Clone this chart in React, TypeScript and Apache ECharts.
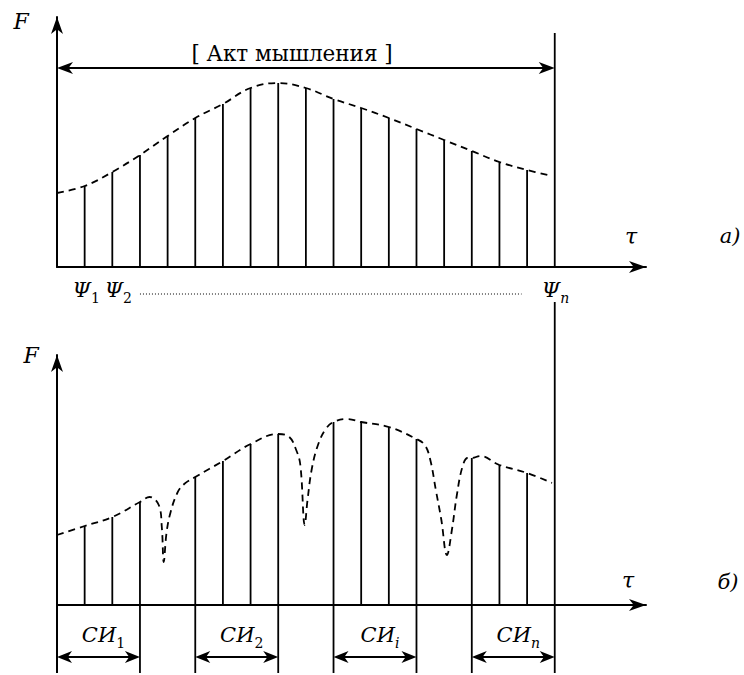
import React, { useEffect, useRef } from "react";
import * as echarts from "echarts";

const FONT = "DejaVu Serif";
const INK = "#000";

// ---------- panel a) ----------
const topStemTau = [1, 2, 3, 4, 5, 6, 7, 8, 9, 10, 11, 12, 13, 14, 15, 16, 17];
const topStemF = [81, 95, 112, 131, 149, 163, 179, 184, 179, 168, 159, 149, 138, 127, 116, 105, 97];
const topEnvTau = [0, 1, 2, 3, 4, 5, 6, 7, 8, 9, 10, 11, 12, 13, 14, 15, 16, 17, 17.9];
const topEnvF = [74, 81, 95, 112, 131, 149, 163, 179, 184, 179, 168, 159, 149, 138, 127, 116, 105, 97, 91];
const actEndTau = 18;
const actLineTopF = 234;
const actArrowF = 199;
const actLabel = "[ Акт мышления ]";
const psiAnchorTau = [1, 2, 18];
const psiSubs = ["1", "2", "n"];
const psiDotsTau = [3.0, 16.8];

// ---------- panel б) ----------
const botStemTau = [1, 2, 3, 5, 6, 7, 8, 10, 11, 12, 13, 15, 16, 17];
const botStemF = [79, 88, 103, 128, 144, 161, 171, 183, 183, 178, 166, 147, 140, 132];
const botEnvTau = [0, 1, 2, 3, 3.35, 3.68, 3.79, 3.86, 3.96, 4.1, 4.35, 4.6, 5, 6, 7, 8, 8.4, 8.65, 8.8, 8.96, 9.06, 9.22, 9.45, 9.72, 10, 10.5, 11, 12, 13, 13.3, 13.5, 13.7, 13.9, 14.1, 14.28, 14.46, 14.66, 14.85, 15, 15.3, 16, 17, 17.9];
const botEnvF = [70, 79, 88, 103, 108, 100, 78, 43, 72, 92, 112, 121, 128, 144, 161, 171, 168, 155, 140, 80, 105, 137, 161, 176, 183, 186, 183, 178, 166, 160, 145, 115, 85, 50, 75, 110, 138, 147, 147, 149, 140, 132, 122];
const siBounds = [[0, 3], [5, 8], [10, 13], [15, 18]];
const siSubs = ["1", "2", "i", "n"];
const botEndTau = 18;
const botLineTopF = 303;
const belowF = -68;
const siArrowF = -52;
const siLabelF = -32;

const TAU_MAX = 21.3;
const F_MAX = 250;

function arrowHead(tip: number[], dx: number, dy: number, len = 16, hw = 6) {
  const px = -dy, py = dx;
  const bx = tip[0] - dx * len, by = tip[1] - dy * len;
  const nx = tip[0] - dx * len * 0.72, ny = tip[1] - dy * len * 0.72;
  return {
    type: "polygon",
    shape: { points: [tip, [bx + px * hw, by + py * hw], [nx, ny], [bx - px * hw, by - py * hw]] },
    style: { fill: INK },
  };
}

function seg(a: number[], b: number[], w = 1.8, dash?: number[]) {
  return {
    type: "line",
    shape: { x1: a[0], y1: a[1], x2: b[0], y2: b[1] },
    style: { stroke: INK, lineWidth: w, lineDash: dash, fill: null },
  };
}

function txt(x: number, y: number, text: string, size: number, italic = true, align = "center") {
  return {
    type: "text",
    x,
    y,
    style: {
      text,
      fill: INK,
      fontFamily: FONT,
      fontSize: size,
      fontStyle: italic ? "italic" : "normal",
      align,
      verticalAlign: "middle",
    },
  };
}

function subTxt(x: number, y: number, main: string, sub: string, size: number, subSize: number) {
  const subItalic = !(sub === "1" || sub === "2");
  return {
    type: "text",
    x,
    y,
    style: {
      text: `{m|${main}}{s|${sub}}`,
      fill: INK,
      fontFamily: FONT,
      fontSize: size,
      align: "center",
      verticalAlign: "middle",
      rich: {
        m: { fontFamily: FONT, fontSize: size, fontStyle: "italic", fill: INK, verticalAlign: "bottom", padding: [0, 0, 5, 0] },
        s: { fontFamily: FONT, fontSize: subSize, fontStyle: subItalic ? "italic" : "normal", fill: INK, verticalAlign: "bottom" },
      },
    },
  };
}

const axisBase = {
  type: "value",
  axisLine: { show: true, onZero: false, lineStyle: { color: INK, width: 2 } },
  axisTick: { show: false },
  axisLabel: { show: false },
  splitLine: { show: false },
};

function stemsRender(boundaries: number[]) {
  return (_p: any, api: any) => {
    const t = api.value(0);
    const f = api.value(1);
    const base = boundaries.indexOf(t) >= 0 ? belowF : 0;
    return seg(api.coord([t, base]), api.coord([t, f]), 1.8);
  };
}

const topDecor = (_p: any, api: any) => {
  const c = (t: number, f: number) => api.coord([t, f]);
  const children: any[] = [];
  children.push(arrowHead(c(TAU_MAX, 0), 1, 0, 17, 6));
  children.push(arrowHead(c(0, F_MAX), 0, -1, 17, 6));
  children.push(seg(c(actEndTau, 0), c(actEndTau, actLineTopF), 1.8));
  const L = c(0, actArrowF), R = c(actEndTau, actArrowF);
  children.push(seg([L[0] + 8, L[1]], [R[0] - 8, R[1]], 1.8));
  children.push(arrowHead(L, -1, 0, 16, 6));
  children.push(arrowHead(R, 1, 0, 16, 6));
  const lp = c(actEndTau / 2 - 0.5, 214);
  children.push(txt(lp[0], lp[1], actLabel, 21.5, false));
  const offs = [1.5, 6, 0.7];
  psiAnchorTau.forEach((t, i) => {
    const p = c(t, -25);
    children.push(subTxt(p[0] + offs[i], p[1], "Ψ", psiSubs[i], 21, 14));
  });
  children.push(seg(c(psiDotsTau[0], -27), c(psiDotsTau[1], -27), 1, [1, 2]));
  const fp = c(0, F_MAX);
  children.push(txt(fp[0] - 36, fp[1] + 4, "F", 22));
  const tp = c(TAU_MAX, 0);
  children.push(txt(tp[0] - 15, tp[1] - 31, "τ", 22));
  children.push(txt(tp[0] + 84, tp[1] - 31, "a)", 21));
  return { type: "group", children };
};

const botDecor = (_p: any, api: any) => {
  const c = (t: number, f: number) => api.coord([t, f]);
  const children: any[] = [];
  children.push(arrowHead(c(TAU_MAX, 0), 1, 0, 17, 6));
  children.push(arrowHead(c(0, F_MAX), 0, -1, 17, 6));
  children.push(seg(c(0, 0), c(0, belowF), 2));
  children.push(seg(c(botEndTau, belowF), c(botEndTau, botLineTopF), 1.8));
  siBounds.forEach(([a, b], i) => {
    const A = c(a, siArrowF), B = c(b, siArrowF);
    children.push(seg([A[0] + 8, A[1]], [B[0] - 8, B[1]], 1.8));
    children.push(arrowHead(A, -1, 0, 15, 6));
    children.push(arrowHead(B, 1, 0, 15, 6));
    const m = c((a + b) / 2, siLabelF);
    children.push(subTxt(m[0] + 5, m[1], "СИ", siSubs[i], 21, 14));
  });
  const fp = c(0, F_MAX);
  children.push(txt(fp[0] - 26, fp[1], "F", 22));
  const tp = c(TAU_MAX, 0);
  children.push(txt(tp[0] - 18, tp[1] - 25, "τ", 22));
  children.push(txt(tp[0] + 82, tp[1] - 23, "б)", 21));
  return { type: "group", children };
};

const envStyle = { color: INK, width: 1.8, type: [7, 5] };

const option: any = {
  animation: false,
  backgroundColor: "#fff",
  textStyle: { fontFamily: FONT },
  grid: [
    { left: 57, top: 17, width: 589, height: 250 },
    { left: 57, top: 355, width: 589, height: 250 },
  ],
  xAxis: [
    { ...axisBase, gridIndex: 0, min: 0, max: TAU_MAX },
    { ...axisBase, gridIndex: 1, min: 0, max: TAU_MAX },
  ],
  yAxis: [
    { ...axisBase, gridIndex: 0, min: 0, max: F_MAX },
    { ...axisBase, gridIndex: 1, min: 0, max: F_MAX },
  ],
  series: [
    {
      type: "custom", xAxisIndex: 0, yAxisIndex: 0, clip: false, silent: true,
      data: topStemTau.map((t, i) => [t, topStemF[i]]),
      renderItem: stemsRender([]),
    },
    {
      type: "line", xAxisIndex: 0, yAxisIndex: 0,
      data: topEnvTau.map((t, i) => [t, topEnvF[i]]),
      smooth: 0.4, symbol: "none", silent: true, clip: false,
      lineStyle: envStyle,
    },
    {
      type: "custom", xAxisIndex: 0, yAxisIndex: 0, clip: false, silent: true,
      data: [[0, 0]],
      renderItem: topDecor,
    },
    {
      type: "custom", xAxisIndex: 1, yAxisIndex: 1, clip: false, silent: true,
      data: botStemTau.map((t, i) => [t, botStemF[i]]),
      renderItem: stemsRender(siBounds.flat()),
    },
    {
      type: "line", xAxisIndex: 1, yAxisIndex: 1,
      data: botEnvTau.map((t, i) => [t, botEnvF[i]]),
      smooth: 0.4, symbol: "none", silent: true, clip: false,
      lineStyle: envStyle,
    },
    {
      type: "custom", xAxisIndex: 1, yAxisIndex: 1, clip: false, silent: true,
      data: [[0, 0]],
      renderItem: botDecor,
    },
  ],
};

export default function App() {
  const ref = useRef<HTMLDivElement>(null);
  useEffect(() => {
    const chart = echarts.init(ref.current as HTMLDivElement, null, { renderer: "svg" });
    chart.setOption(option);
    return () => chart.dispose();
  }, []);
  return <div ref={ref} style={{ position: "fixed", left: 0, top: 0, width: 744, height: 675 }} />;
}
